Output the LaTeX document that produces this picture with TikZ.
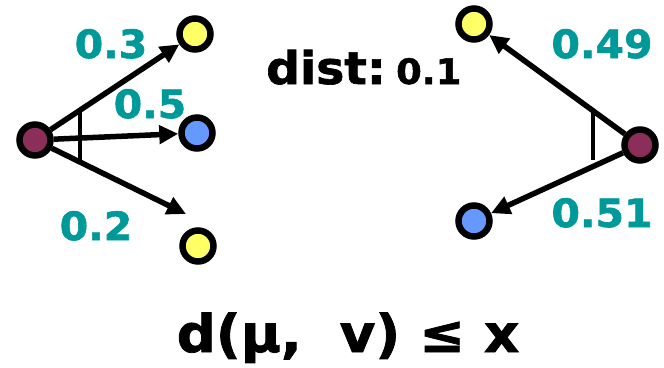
\documentclass[tikz,border=0pt]{standalone}
\usepackage{fontspec}
\setmainfont{DejaVu Sans}[FakeStretch=1.05, FakeBold=1.5]
\usetikzlibrary{arrows.meta}
\definecolor{teal1}{HTML}{009999}
\definecolor{yel}{HTML}{FFFF66}
\definecolor{blu}{HTML}{6699FF}
\definecolor{maroon1}{HTML}{8B2E5A}
\begin{document}
\begin{tikzpicture}[x=1pt,y=-1pt,
  dot/.style={circle, draw=black, line width=6.5pt, minimum size=31pt, inner sep=0pt},
  arr/.style={line width=5.5pt, -{Triangle[length=19pt,width=18pt]}},
  bar/.style={line width=4.5pt},
  lab/.style={text=teal1, font=\bfseries\fontsize{39}{44}\selectfont, inner sep=0pt, anchor=base},
  big/.style={font=\bfseries\fontsize{45}{50}\selectfont, inner sep=0pt, anchor=base}
]
\useasboundingbox (0,0) rectangle (664,367);
% left group
\node[dot, fill=maroon1] (s1) at (35,140) {};
\node[dot, fill=yel] (y1) at (195,34) {};
\node[dot, fill=blu] (b1) at (197,133) {};
\node[dot, fill=yel] (y2) at (198,246) {};
\coordinate (t3) at (186,214);
\draw[arr] (s1) -- (y1);
\draw[arr] (s1) -- (b1);
\draw[arr] (s1) -- (t3);
\draw[bar] (80,112) -- (80,160);
\node[lab] (l3) at (111,58) {0.3};
\node[lab] (l5) at (150,118) {0.5};
\node[lab] (l2) at (96,240) {0.2};
% middle text
\node[big, anchor=base west] (dist) at (266,84) {dist:};
\node[font=\bfseries\fontsize{35}{38}\selectfont, inner sep=0pt, anchor=base west] (d01) at (396,84) {0.1};
% right group
\node[dot, fill=maroon1] (s2) at (640,145) {};
\node[dot, fill=yel] (y3) at (474,24) {};
\node[dot, fill=blu] (b2) at (474,221) {};
\draw[arr] (s2) -- (y3);
\draw[arr] (s2) -- (b2);
\draw[bar] (593,113) -- (593,160);
\node[lab] (l49) at (602,58) {0.49};
\node[lab] (l51) at (602,227) {0.51};
% bottom formula
\node[font=\bfseries\fontsize{52}{56}\selectfont, inner sep=0pt, anchor=base] (f) at (348,352) {d(μ,\ \ v) ≤ x};
\end{tikzpicture}
\end{document}
